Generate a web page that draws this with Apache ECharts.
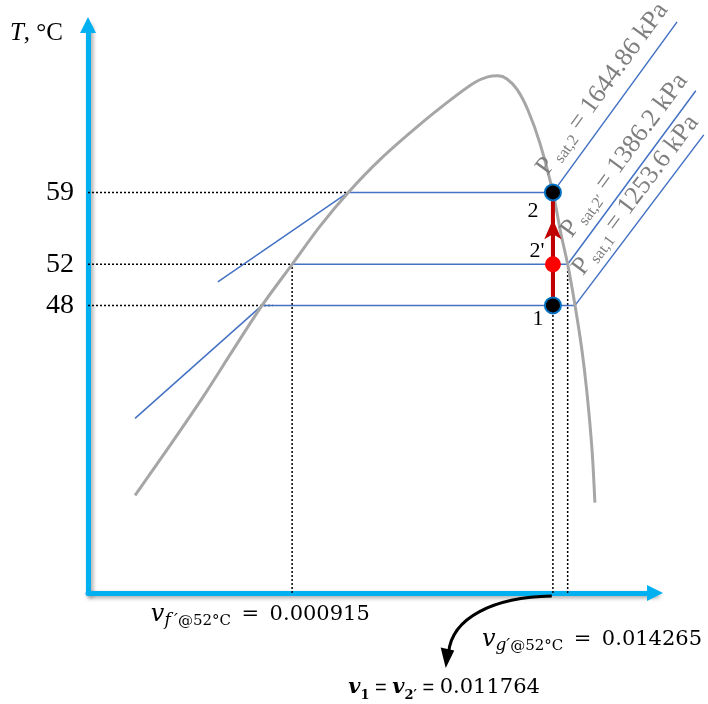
<!DOCTYPE html>
<html><head><meta charset="utf-8">
<script src="https://cdn.jsdelivr.net/npm/echarts@6/dist/echarts.min.js"></script>
<style>html,body{margin:0;padding:0;background:#fff}#c{width:708px;height:704px}</style>
</head><body><div id="c"></div>
<script>
// ---- Schematic T-v diagram data (x: schematic specific-volume units, y: temperature °C) ----
const T_TICKS = [48, 52, 59];
const T_MIN = 20, T_MAX = 75.3, V_MIN = 0, V_MAX = 100;
// full-canvas drawing extent sharing the same scale (so lines may run past the axis arrows)
const V_MAX_FULL = 109.35, T_MAX_FULL = 77.734;

// saturation dome
const DOME_V = [8.3, 14.5, 20.3, 25.4, 30.7, 36.0, 40.9, 45.9, 51.5, 58.5, 64.4, 68.2, 70.5, 72.3,
                73.9, 75.7, 77.6, 79.7, 82.0, 83.4, 84.6, 85.9, 87.1, 88.0, 88.9, 89.4];
const DOME_T = [29.5, 34.4, 39.1, 43.5, 48, 52, 55.7, 59, 62.2, 65.6, 68.2, 69.7, 70.25, 70.35,
                70.05, 69.0, 67.0, 63.8, 59, 55.0, 52, 48, 43.7, 39.5, 33.9, 28.8];

// isobars
const ISO_59_V = [22.9, 45.9, 82.0, 103.9];
const ISO_59_T = [50.3, 59, 59, 75.6];
const ISO_52_V = [36.0, 84.6, 107.2];
const ISO_52_T = [52, 52, 68.9];
const ISO_48_V = [8.3, 30.7, 85.9, 108.6];
const ISO_48_T = [37.0, 48, 48, 64.6];

// dotted guide lines
const GUIDE_H_T = [59, 52, 48];
const GUIDE_H_END = [45.9, 36.0, 32.6];
const GUIDE_V_V = [36.0, 82.0, 84.6];
const GUIDE_V_TOP = [52, 48, 52];

// process 1 -> 2' -> 2 at constant v
const PROC_V = 82.0;
const STATE_T = [48, 52, 59];
const STATE_NAMES = ['1', "2'", '2'];
const ARROW_TIP_T = 56.4;

// pressure labels
const PSAT_SUB = ['sat,2', 'sat,2\u2032', 'sat,1'];
const PSAT_VAL = ['1644.86', '1386.2', '1253.6'];

// specific volume labels
const VF_TEXT = '0.000915';
const VG_TEXT = '0.014265';
const V1_TEXT = '0.011764';

// curved pointer arrow (start, cp1, cp2, end) and head, in chart units
const CURVE_V = [81.8, 71.5, 64.2, 63.6];
const CURVE_T = [19.7, 19.6, 17.6, 14.2];
const HEAD_V = [63.1, 62.2, 64.6];
const HEAD_T = [12.7, 14.7, 14.4];

// ---- chart ----
const SERIF = '"Liberation Serif", "DejaVu Serif", serif';
const MATH = '"DejaVu Serif", serif';
const zip = (a, b) => a.map((v, i) => [v, b[i]]);
const chart = echarts.init(document.getElementById('c'), null, {renderer: 'canvas'});
const axisStyle = {color: '#00b0f0', width: 5, shadowColor: 'rgba(0,0,0,0.35)', shadowBlur: 4, shadowOffsetX: 2, shadowOffsetY: 2};
const dotted = {color: '#000', width: 1.5, type: [2, 2]};
const onFull = {xAxisIndex: 1, yAxisIndex: 1};

const series = [];
GUIDE_H_T.forEach((t, i) => series.push(Object.assign({type: 'line', data: [[V_MIN, t], [GUIDE_H_END[i], t]], symbol: 'none', silent: true, lineStyle: dotted, z: 1}, onFull)));
GUIDE_V_V.forEach((v, i) => series.push(Object.assign({type: 'line', data: [[v, T_MIN], [v, GUIDE_V_TOP[i]]], symbol: 'none', silent: true, lineStyle: dotted, z: 1}, onFull)));
[[ISO_59_V, ISO_59_T], [ISO_52_V, ISO_52_T], [ISO_48_V, ISO_48_T]].forEach(([v, t]) => series.push(Object.assign({
  type: 'line', data: zip(v, t), symbol: 'none', clip: false, silent: true, lineStyle: {color: '#4472c4', width: 1.5}, z: 2
}, onFull)));
series.push(Object.assign({type: 'line', data: zip(DOME_V, DOME_T), smooth: 0.3, symbol: 'none', silent: true, lineStyle: {color: '#a6a6a6', width: 3}, z: 3}, onFull));
series.push(Object.assign({
  type: 'line', data: [[PROC_V, STATE_T[0]], [PROC_V, STATE_T[2]]], symbol: 'none', silent: true,
  lineStyle: {color: '#c00000', width: 4}, z: 4,
  markLine: {silent: true, z: 4, symbol: ['none', 'arrow'], symbolSize: [13, 20], label: {show: false},
    lineStyle: {color: '#c00000', width: 4, type: 'solid'}, emphasis: {disabled: true},
    data: [[{coord: [PROC_V, STATE_T[0]]}, {coord: [PROC_V, ARROW_TIP_T]}]]}
}, onFull));
series.push(Object.assign({
  type: 'scatter', symbolSize: 16, z: 10, silent: true,
  data: STATE_T.map((t, i) => ({value: [PROC_V, t], itemStyle: i === 1 ? {color: '#ff0000', opacity: 1} : {color: '#000', opacity: 1, borderColor: '#0070c0', borderWidth: 2}}))
}, onFull));

chart.setOption({
  animation: false,
  backgroundColor: '#fff',
  grid: [
    {left: 88, right: 53, top: 25, bottom: 111, containLabel: false, outerBoundsMode: 'none'},
    {left: 88, right: 0, top: 0, bottom: 111, containLabel: false, outerBoundsMode: 'none', show: false}
  ],
  xAxis: [
    {type: 'value', gridIndex: 0, min: V_MIN, max: V_MAX,
      axisLine: {show: true, onZero: false, symbol: ['none', 'triangle'], symbolSize: [16, 16], lineStyle: axisStyle},
      axisTick: {show: false}, axisLabel: {show: false}, splitLine: {show: false}},
    {type: 'value', gridIndex: 1, min: V_MIN, max: V_MAX_FULL, show: false, splitLine: {show: false}}
  ],
  yAxis: [
    {type: 'value', gridIndex: 0, min: T_MIN, max: T_MAX,
      name: '{i|T}{n|, °C}', nameLocation: 'end', nameGap: -8,
      nameTextStyle: {align: 'right', verticalAlign: 'middle', padding: [0, 25, 0, 0], fontFamily: SERIF, fontSize: 25, color: '#000',
        rich: {i: {fontStyle: 'italic', fontFamily: SERIF, fontSize: 25, color: '#000'}, n: {fontFamily: SERIF, fontSize: 25, color: '#000'}}},
      axisLine: {show: true, onZero: false, symbol: ['none', 'triangle'], symbolSize: [16, 16], lineStyle: axisStyle},
      axisTick: {show: false}, splitLine: {show: false},
      axisLabel: {show: true, customValues: T_TICKS, fontFamily: SERIF, fontSize: 28, color: '#000', margin: 14}},
    {type: 'value', gridIndex: 1, min: T_MIN, max: T_MAX_FULL, show: false, splitLine: {show: false}}
  ],
  series: series
});

// ---- annotations positioned through the chart's scales ----
const px = (v, t) => chart.convertToPixel({gridIndex: 1}, [v, t]);
const graphics = [];
const gray = '#7f7f7f';

// pressure labels along the superheated isobars
const KNEES = [[ISO_59_V[2], ISO_59_T[2], ISO_59_V[3], ISO_59_T[3]],
               [ISO_52_V[1], ISO_52_T[1], ISO_52_V[2], ISO_52_T[2]],
               [ISO_48_V[2], ISO_48_T[2], ISO_48_V[3], ISO_48_T[3]]];
const P_ALONG = [10, 23, 28], P_NORMAL = [21, 19, 18];
KNEES.forEach((k, i) => {
  const K = px(k[0], k[1]), E = px(k[2], k[3]);
  const a = Math.atan2(K[1] - E[1], E[0] - K[0]);
  const d = [Math.cos(a), -Math.sin(a)], n = [-Math.sin(a), -Math.cos(a)];
  const x = K[0] + P_ALONG[i] * d[0] + P_NORMAL[i] * n[0];
  const y = K[1] + P_ALONG[i] * d[1] + P_NORMAL[i] * n[1];
  const main = {fontFamily: SERIF, fontSize: 26, fill: gray, color: gray, lineHeight: 30};
  graphics.push({type: 'text', x: x, y: y, rotation: a, z: 10, silent: true,
    style: {text: '{p|P}{s| ' + PSAT_SUB[i] + '}{m| = ' + PSAT_VAL[i] + ' kPa}', x: 0, y: 0, align: 'left', verticalAlign: 'middle',
      rich: {p: main, m: main, s: {fontFamily: SERIF, fontSize: 16, fill: gray, color: gray, verticalAlign: 'bottom', lineHeight: 18}}}});
});

// state labels
const STATE_OFF = [[-15, 14], [-16, -13], [-20, 19]];
STATE_T.forEach((t, i) => {
  const p = px(PROC_V, t);
  graphics.push({type: 'text', x: p[0] + STATE_OFF[i][0], y: p[1] + STATE_OFF[i][1], z: 10, silent: true,
    style: {text: STATE_NAMES[i], align: 'center', verticalAlign: 'middle', fontFamily: SERIF, fontSize: 22, fill: '#000'}});
});

// specific volume labels
function vLabel(sub1, sub2, val, anchor) {
  const main = {fontFamily: MATH, fontSize: 21, fill: '#000', color: '#000', lineHeight: 28};
  return {type: 'text', x: anchor[0], y: anchor[1], z: 10, silent: true,
    style: {text: '{v|v}{si|' + sub1 + '}{s|' + sub2 + '}{m|\u2002=\u2002' + val + '}', x: 0, y: 0, align: 'right', verticalAlign: 'middle',
      rich: {v: {fontFamily: MATH, fontStyle: 'italic', fontSize: 24, fill: '#000', color: '#000', lineHeight: 28}, m: main,
        si: {fontFamily: MATH, fontStyle: 'italic', fontSize: 17, fill: '#000', color: '#000', verticalAlign: 'bottom', lineHeight: 19},
        s: {fontFamily: MATH, fontSize: 15, fill: '#000', color: '#000', verticalAlign: 'bottom', lineHeight: 19}}}};
}
graphics.push(vLabel('f\u2009\u2032', '@52°C', VF_TEXT, px(49.7, 17.86)));
graphics.push(vLabel('g\u2032', '@52°C', VG_TEXT, px(108.3, 15.42)));
(function () {
  const a = px(79.7, 10.75);
  const vs = {fontFamily: MATH, fontStyle: 'italic', fontWeight: 'bold', fontSize: 21, fill: '#000', color: '#000', lineHeight: 28};
  const ss = {fontFamily: MATH, fontWeight: 'bold', fontSize: 13, fill: '#000', color: '#000', verticalAlign: 'bottom', lineHeight: 18};
  const eq = {fontFamily: '"Liberation Sans", sans-serif', fontSize: 20, fill: '#000', color: '#000', lineHeight: 28};
  graphics.push({type: 'text', x: a[0], y: a[1], z: 10, silent: true,
    style: {text: '{v|v}{s|1}{e| = }{v|v}{s|2\u2032}{e| = }{m|' + V1_TEXT + '}', x: 0, y: 0, align: 'right', verticalAlign: 'middle',
      rich: {v: vs, s: ss, e: eq, m: {fontFamily: MATH, fontSize: 21, fill: '#000', color: '#000', lineHeight: 28}}}});
})();

// curved pointer arrow
const C = CURVE_V.map((v, i) => px(v, CURVE_T[i]));
graphics.push({type: 'bezierCurve', z: 10, silent: true,
  shape: {x1: C[0][0], y1: C[0][1], cpx1: C[1][0], cpy1: C[1][1], cpx2: C[2][0], cpy2: C[2][1], x2: C[3][0], y2: C[3][1]},
  style: {stroke: '#000', lineWidth: 3, fill: null}});
graphics.push({type: 'polygon', z: 10, silent: true,
  shape: {points: HEAD_V.map((v, i) => px(v, HEAD_T[i]))}, style: {fill: '#000', stroke: null}});

chart.setOption({graphic: graphics});
</script></body></html>
